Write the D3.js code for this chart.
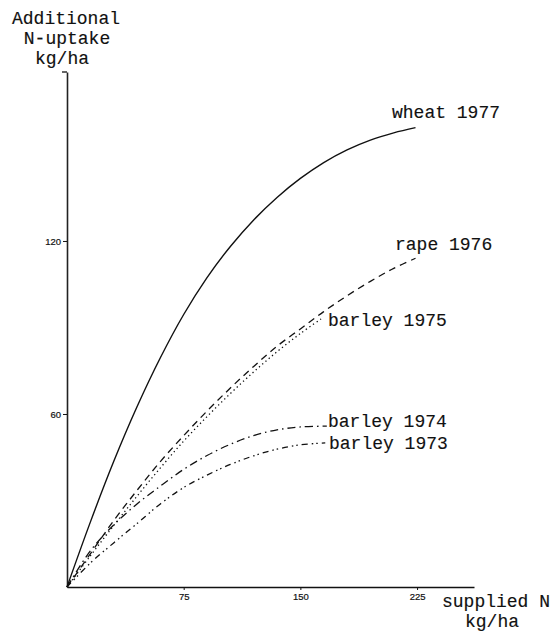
<!DOCTYPE html>
<html>
<head>
<meta charset="utf-8">
<script src="https://cdn.jsdelivr.net/npm/d3@7"></script>
<style>
  html, body { margin: 0; padding: 0; background: #fff; }
  svg { display: block; }
  .lab { font-family: "Liberation Mono", "Courier New", monospace; font-size: 18px; fill: #111; stroke: #111; stroke-width: 0.15px; }
  .tick text { font-family: "Liberation Sans", Arial, sans-serif; font-size: 9.5px; fill: #111; stroke: #111; stroke-width: 0.2px; }
</style>
</head>
<body>
<svg id="chart" width="555" height="632"></svg>
<script>
// Supplied nitrogen (kg/ha) at which each response curve is read
const nWheat1977  = [0, 15, 30, 45, 60, 75, 90, 105, 120, 135, 150, 165, 180, 195, 210, 224];
const upWheat1977 = [0, 22.5, 43.5, 62.5, 79.5, 94.5, 107.3, 118.1, 127.3, 135.1, 141.7, 147.2, 151.6, 155, 157.5, 159.3];

const nRape1976   = [0, 15, 30, 45, 60, 75, 90, 105, 120, 135, 150, 165, 180, 195, 210, 224];
const upRape1976  = [0, 11.5, 23, 33.5, 43.5, 52.5, 61, 69, 76.5, 83.5, 89.5, 95.5, 101, 106, 110.5, 114];

const nBarley1975  = [0, 15, 30, 45, 60, 75, 90, 105, 120, 135, 150, 165];
const upBarley1975 = [0, 10.8, 21.3, 31.5, 41.3, 50.6, 59.1, 67.1, 74.6, 81.6, 87.9, 93.6];

const nBarley1974  = [0, 15, 30, 45, 60, 75, 90, 105, 120, 135, 150, 167];
const upBarley1974 = [0, 12.5, 21.5, 28.8, 35, 40.8, 45.6, 49.5, 52.5, 54.5, 55.5, 55.8];

const nBarley1973  = [0, 15, 30, 45, 60, 75, 90, 105, 120, 135, 150, 166];
const upBarley1973 = [0, 8.3, 15.3, 22, 28.8, 34.5, 38.8, 42.5, 45.5, 47.8, 49.3, 50];

const xTicks = [75, 150, 225];
const yTicks = [60, 120];

const seriesNames = ["wheat 1977", "rape 1976", "barley 1975", "barley 1974", "barley 1973"];

const svg = d3.select("#chart");

// axis extents in data units
const xMax = 261.6, yMax = 178.6;
const x = d3.scaleLinear().domain([0, xMax]).range([67, 474]);
const y = d3.scaleLinear().domain([0, yMax]).range([587, 72]);

// x axis
const gx = svg.append("g").attr("transform", `translate(0,${y(0)})`)
  .call(d3.axisBottom(x).tickValues(xTicks).tickSize(3).tickSizeOuter(0).tickPadding(3));
gx.select(".domain").attr("stroke", "#111").attr("stroke-width", 1.6);
gx.selectAll(".tick line").attr("stroke", "#111").attr("stroke-width", 1);

// y axis
const gy = svg.append("g").attr("transform", `translate(${x(0)},0)`)
  .call(d3.axisLeft(y).tickValues(yTicks).tickSize(4).tickSizeOuter(0).tickPadding(2));
gy.select(".domain").attr("stroke", "#222").attr("stroke-width", 1.6);
gy.selectAll(".tick line").attr("stroke", "#111").attr("stroke-width", 1);
// small cap at the top of the y axis
svg.append("line").attr("x1", x(0) - 5).attr("x2", x(0)).attr("y1", y(yMax)).attr("y2", y(yMax))
  .attr("stroke", "#111").attr("stroke-width", 1.3);

const line = d3.line().curve(d3.curveCatmullRom.alpha(0.5)).x(d => x(d[0])).y(d => y(d[1]));
const zip = (a, b) => a.map((v, i) => [v, b[i]]);

const curves = [
  { name: seriesNames[0], pts: zip(nWheat1977, upWheat1977),   dash: null,              w: 1.4 },
  { name: seriesNames[1], pts: zip(nRape1976, upRape1976),     dash: "7,5",             w: 1.3 },
  { name: seriesNames[2], pts: zip(nBarley1975, upBarley1975), dash: "1.3,3",           w: 1.3 },
  { name: seriesNames[3], pts: zip(nBarley1974, upBarley1974), dash: "8,4,1.5,4",       w: 1.3 },
  { name: seriesNames[4], pts: zip(nBarley1973, upBarley1973), dash: "6,4,1.5,3,1.5,4", w: 1.3 }
];

svg.append("g").selectAll("path").data(curves).join("path")
  .attr("d", d => line(d.pts))
  .attr("fill", "none")
  .attr("stroke", "#111")
  .attr("stroke-width", d => d.w)
  .attr("stroke-dasharray", d => d.dash);

// curve labels
const labelPos = [
  [392, 118], [395, 250], [328, 326], [328, 427], [329, 449]
];
svg.append("g").selectAll("text").data(curves).join("text")
  .attr("class", "lab")
  .attr("x", (d, i) => labelPos[i][0])
  .attr("y", (d, i) => labelPos[i][1])
  .text(d => d.name);

// axis titles
const yTitle = ["Additional", "N-uptake", "kg/ha"];
const yTitlePos = [[66, 24], [67, 44], [62, 64]];
svg.append("g").selectAll("text").data(yTitle).join("text")
  .attr("class", "lab")
  .attr("text-anchor", "middle")
  .attr("x", (d, i) => yTitlePos[i][0])
  .attr("y", (d, i) => yTitlePos[i][1])
  .text(d => d);

const xTitle = ["supplied N", "kg/ha"];
const xTitlePos = [[442, 607], [465, 627]];
svg.append("g").selectAll("text").data(xTitle).join("text")
  .attr("class", "lab")
  .attr("x", (d, i) => xTitlePos[i][0])
  .attr("y", (d, i) => xTitlePos[i][1])
  .text(d => d);
</script>
</body>
</html>
